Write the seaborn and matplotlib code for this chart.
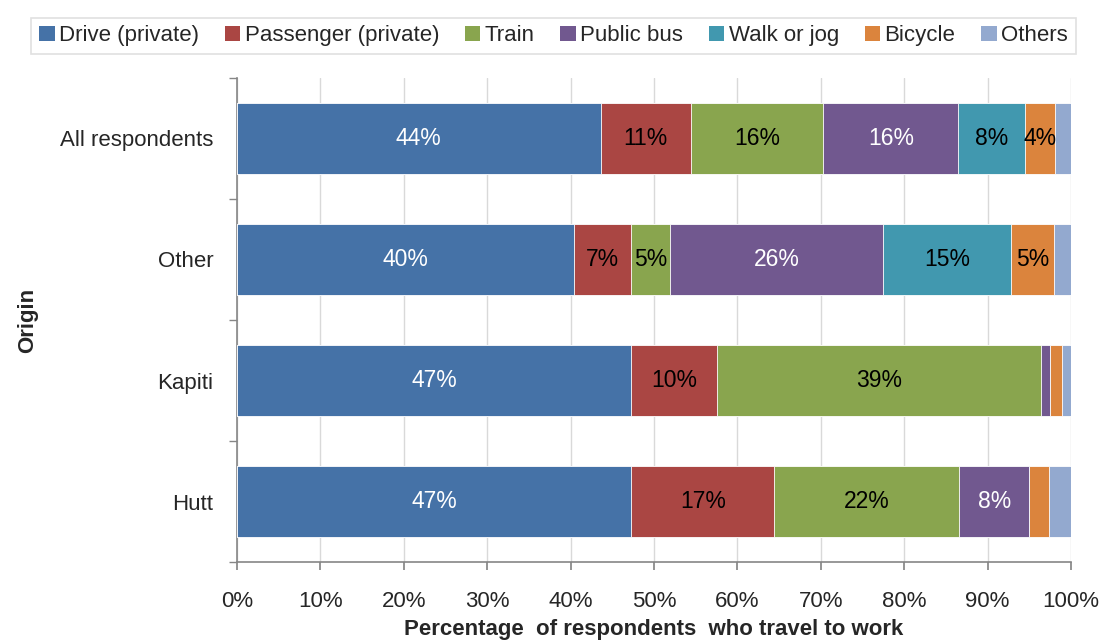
import numpy as np
import pandas as pd
import matplotlib
matplotlib.use("Agg")
import matplotlib.pyplot as plt
from matplotlib.patches import Patch
import seaborn as sns

origins = ["All respondents", "Other", "Kapiti", "Hutt"]
modes = ["Drive (private)", "Passenger (private)", "Train", "Public bus",
         "Walk or jog", "Bicycle", "Others"]
drive = [43.6, 40.4, 47.3, 47.3]
passenger = [10.8, 6.8, 10.3, 17.1]
train = [15.9, 4.7, 38.8, 22.2]
bus = [16.2, 25.6, 1.1, 8.4]
walk = [8.0, 15.3, 0.0, 0.0]
bicycle = [3.6, 5.2, 1.4, 2.4]
others = [1.9, 2.0, 1.1, 2.6]
x_ticks = [0, 10, 20, 30, 40, 50, 60, 70, 80, 90, 100]

colors = ["#4572A7", "#AA4643", "#89A54E", "#71588F", "#4198AF", "#DB843D", "#93A9CF"]
label_colors = ["white", "black", "black", "white", "black", "black", "black"]

sns.set_theme(style="white")
plt.rcParams["font.family"] = ["Liberation Sans", "DejaVu Sans"]

FS = 16

series = [drive, passenger, train, bus, walk, bicycle, others]
df = pd.DataFrame({m: v for m, v in zip(modes, series)}, index=origins)
cum = df.cumsum(axis=1)
starts = cum - df

fig = plt.figure(figsize=(11.07, 6.44), dpi=100)
ax = fig.add_axes([0.2141, 0.1273, 0.9675 - 0.2141, 0.8789 - 0.1273])

for i in reversed(range(len(modes))):
    m = modes[i]
    d = pd.DataFrame({"origin": origins, "value": cum[m].values})
    sns.barplot(data=d, x="value", y="origin", orient="h", color=colors[i],
                saturation=1, width=0.58, edgecolor="white", linewidth=0.6,
                ax=ax, zorder=3)

for j, o in enumerate(origins):
    for i, m in enumerate(modes):
        v = df.loc[o, m]
        if v >= 3:
            ax.text(starts.loc[o, m] + v / 2, j, f"{int(round(v))}%",
                    ha="center", va="center", fontsize=FS + 0.5,
                    color=label_colors[i], zorder=5)

ax.set_xlim(0, 100)
ax.set_ylim(3.5, -0.5)
ax.set_xticks(x_ticks)
ax.set_xticklabels([f"{t}%" for t in x_ticks], fontsize=FS)
ax.set_yticks(range(len(origins)))
ax.set_yticklabels(origins, fontsize=FS)
ax.set_yticks(np.arange(-0.5, len(origins), 1.0), minor=True)
ax.tick_params(axis="y", which="major", length=0, pad=17)
ax.tick_params(axis="y", which="minor", length=6, color="#868686", direction="out", left=True)
ax.tick_params(axis="x", which="major", length=6, color="#868686", direction="out", bottom=True, pad=15)
ax.grid(axis="x", color="#D9D9D9", linewidth=1, zorder=0)
ax.set_axisbelow(True)
for s in ["top", "right"]:
    ax.spines[s].set_visible(False)
for s in ["left", "bottom"]:
    ax.spines[s].set_color("#868686")
    ax.spines[s].set_linewidth(1.2)

ax.set_xlabel("Percentage  of respondents  who travel to work", fontsize=FS,
              fontweight="bold", labelpad=5)
ax.set_ylabel("Origin", fontsize=FS, fontweight="bold", labelpad=16)

handles = [Patch(facecolor=c, edgecolor="none", label=m) for c, m in zip(colors, modes)]
leg = fig.legend(handles=handles, loc="upper center", bbox_to_anchor=(0.5, 0.99),
                 ncol=7, fontsize=FS, frameon=True, fancybox=False,
                 handlelength=0.7, handleheight=0.7, handletextpad=0.2,
                 columnspacing=1.15, borderpad=0.35, edgecolor="#D9D9D9")
leg.get_frame().set_linewidth(1.2)

fig.savefig("out.png", dpi=100)
